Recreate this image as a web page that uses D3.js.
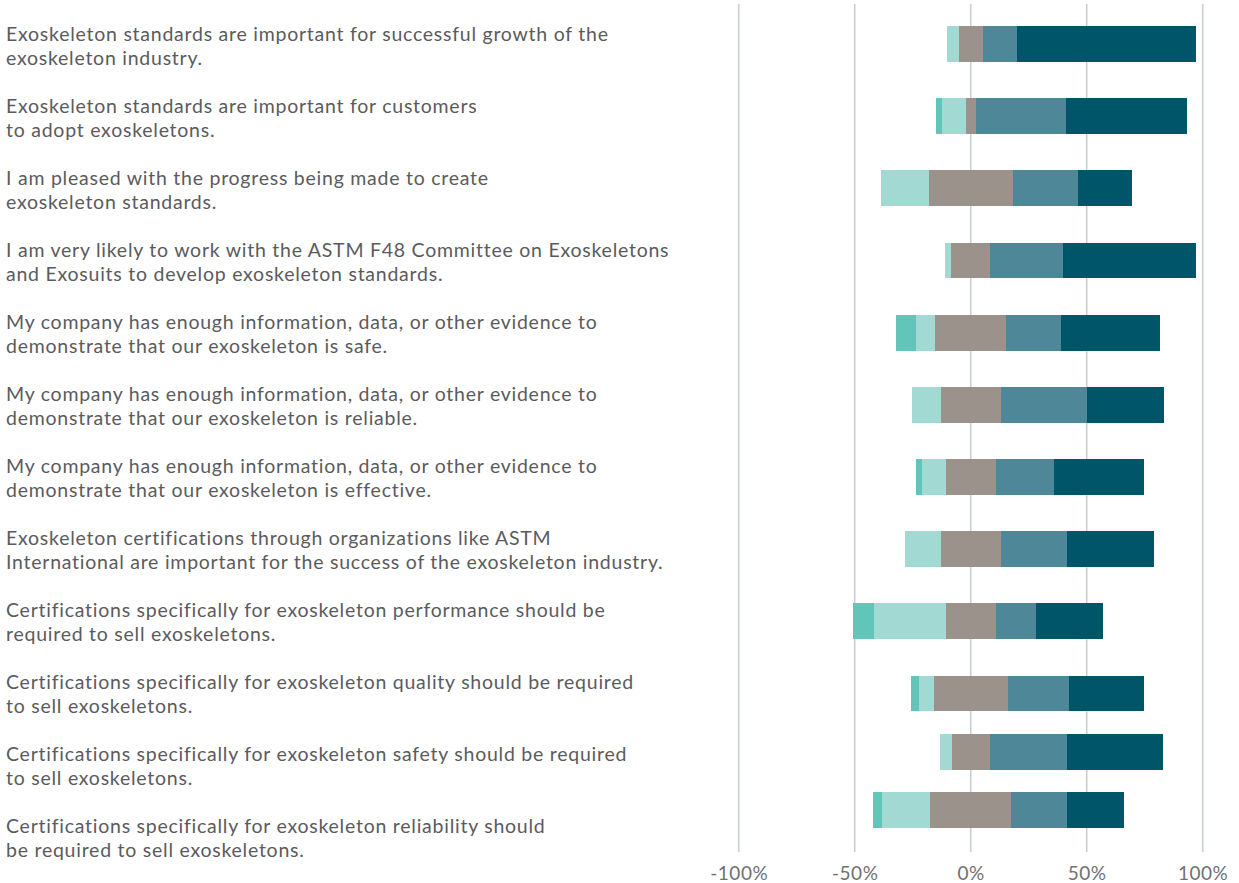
<!DOCTYPE html>
<html>
<head>
<meta charset="utf-8">
<script src="https://cdn.jsdelivr.net/npm/d3@7"></script>
<style>
  html, body { margin: 0; padding: 0; background: #ffffff; }
  svg { display: block; }
  .label { font-family: Lato, "Open Sans", sans-serif; font-size: 19.5px; letter-spacing: 0.75px; fill: #5b5b5d; }
  .tick-label { font-family: Lato, "Open Sans", sans-serif; font-size: 19px; letter-spacing: 0.5px; fill: #707173; }
</style>
</head>
<body>
<svg id="chart" width="1239" height="883"></svg>
<script>
// Survey statements (each split over two lines)
const statements = [
  ["Exoskeleton standards are important for successful growth of the", "exoskeleton industry."],
  ["Exoskeleton standards are important for customers", "to adopt exoskeletons."],
  ["I am pleased with the progress being made to create", "exoskeleton standards."],
  ["I am very likely to work with the ASTM F48 Committee on Exoskeletons", "and Exosuits to develop exoskeleton standards."],
  ["My company has enough information, data, or other evidence to", "demonstrate that our exoskeleton is safe."],
  ["My company has enough information, data, or other evidence to", "demonstrate that our exoskeleton is reliable."],
  ["My company has enough information, data, or other evidence to", "demonstrate that our exoskeleton is effective."],
  ["Exoskeleton certifications through organizations like ASTM", "International are important for the success of the exoskeleton industry."],
  ["Certifications specifically for exoskeleton performance should be", "required to sell exoskeletons."],
  ["Certifications specifically for exoskeleton quality should be required", "to sell exoskeletons."],
  ["Certifications specifically for exoskeleton safety should be required", "to sell exoskeletons."],
  ["Certifications specifically for exoskeleton reliability should", "be required to sell exoskeletons."]
];

// Response shares (%) per statement
const stronglyDisagree = [0, 2.6, 0, 0, 8.6, 0, 2.6, 0, 8.8, 3.4, 0, 3.9];
const disagree         = [5.2, 10.3, 20.7, 2.6, 8.2, 12.5, 10.3, 15.5, 31.0, 6.5, 5.2, 20.7];
const neutral          = [10.3, 4.3, 36.2, 16.8, 30.6, 25.9, 21.6, 25.9, 21.6, 31.9, 16.4, 34.9];
const agree            = [14.7, 38.8, 28.0, 31.5, 23.7, 37.1, 25.0, 28.4, 17.2, 26.3, 33.2, 24.1];
const stronglyAgree    = [77.2, 52.2, 23.3, 57.3, 42.7, 33.2, 38.8, 37.5, 28.9, 32.3, 41.4, 24.6];

const tickValues = [-100, -50, 0, 50, 100];
const tickLabels = ["-100%", "-50%", "0%", "50%", "100%"];

const colors = {
  stronglyDisagree: "#61c5b9",
  disagree: "#a3d9d3",
  neutral: "#9a928b",
  agree: "#4d8798",
  stronglyAgree: "#015568"
};

const svg = d3.select("#chart");

const x = d3.scaleLinear().domain([-100, 100]).range([738.7, 1202.7]);

// Label rows are evenly spaced
const labelY = d3.scaleLinear().domain([0, 11]).range([46.5, 838.5]);
// Bar rows: last two bars sit closer together
const barY = d3.scaleLinear().domain([0, 9, 11]).range([44, 693.5, 810]);
const barHeight = 35.7;

// Gridlines
svg.append("g")
  .selectAll("line")
  .data(tickValues)
  .join("line")
  .attr("x1", d => x(d))
  .attr("x2", d => x(d))
  .attr("y1", 4)
  .attr("y2", 852)
  .attr("stroke", "#c9ced2")
  .attr("stroke-width", 1.6);

// Build stacked segments, neutral centred on zero
const rows = statements.map((s, i) => {
  const segs = [];
  const nLeft = -neutral[i] / 2;
  let left = nLeft - disagree[i];
  segs.push({ key: "stronglyDisagree", x0: left - stronglyDisagree[i], x1: left });
  segs.push({ key: "disagree", x0: left, x1: nLeft });
  segs.push({ key: "neutral", x0: nLeft, x1: neutral[i] / 2 });
  const aEnd = neutral[i] / 2 + agree[i];
  segs.push({ key: "agree", x0: neutral[i] / 2, x1: aEnd });
  segs.push({ key: "stronglyAgree", x0: aEnd, x1: aEnd + stronglyAgree[i] });
  return { i, segs: segs.filter(s => s.x1 - s.x0 > 0) };
});

const rowG = svg.append("g")
  .selectAll("g")
  .data(rows)
  .join("g")
  .attr("transform", d => `translate(0,${barY(d.i) - barHeight / 2})`);

rowG.selectAll("rect")
  .data(d => d.segs)
  .join("rect")
  .attr("x", d => x(d.x0))
  .attr("width", d => x(d.x1) - x(d.x0))
  .attr("y", 0)
  .attr("height", barHeight)
  .attr("fill", d => colors[d.key])
  .attr("shape-rendering", "crispEdges");

// Statement labels
const labels = svg.append("g")
  .selectAll("text")
  .data(statements)
  .join("text")
  .attr("class", "label")
  .attr("x", 6)
  .attr("y", (d, i) => labelY(i));

labels.selectAll("tspan")
  .data(d => d)
  .join("tspan")
  .attr("x", 6)
  .attr("dy", (d, j) => j === 0 ? "-0.3em" : "24px")
  .text(d => d);

// Axis tick labels
const axis = d3.axisBottom(x)
  .tickValues(tickValues)
  .tickFormat((d, i) => tickLabels[i])
  .tickSize(0)
  .tickPadding(0);

const axisG = svg.append("g")
  .attr("transform", "translate(0,866)")
  .call(axis);
axisG.select(".domain").remove();
axisG.selectAll("text")
  .attr("class", "tick-label")
  .attr("fill", null)
  .style("font-size", null)
  .style("font-family", null);
</script>
</body>
</html>
